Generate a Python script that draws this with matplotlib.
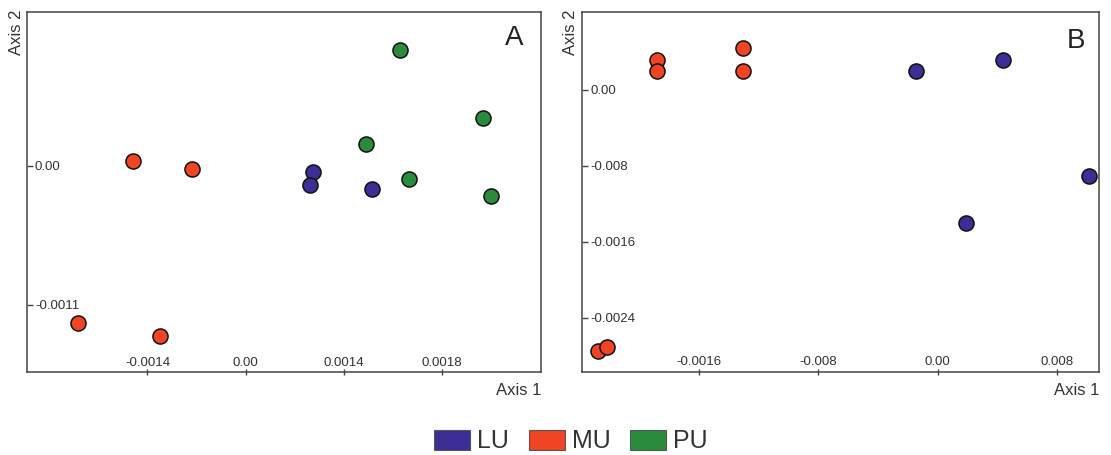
"""Two-panel ordination scatter (Axis 1 vs Axis 2) for groups LU / MU / PU."""

import matplotlib

matplotlib.use("Agg")
import matplotlib.pyplot as plt
from matplotlib.patches import Patch

plt.rcParams["font.family"] = ["Liberation Sans", "DejaVu Sans"]

GROUPS = ["LU", "MU", "PU"]
COLORS = {"LU": "#3b2f95", "MU": "#f04424", "PU": "#2a8b3d"}

# Panel A scores
a_lu_x = [0.000959, 0.000919, 0.001800]
a_lu_y = [-0.000055, -0.000155, -0.000186]
a_mu_x = [-0.001606, -0.000764, -0.002385, -0.001218]
a_mu_y = [0.000032, -0.000024, -0.001240, -0.001345]
a_pu_x = [0.002203, 0.003390, 0.001713, 0.002336, 0.003503]
a_pu_y = [0.000908, 0.000371, 0.000166, -0.000103, -0.000239]

# Panel B scores
b_lu_x = [-0.001429, 0.004368, 0.010138, 0.001899]
b_lu_y = [0.001916, 0.003137, -0.009105, -0.014021]
b_mu_x = [-0.018841, -0.018841, -0.013024, -0.013024, -0.022793, -0.022149]
b_mu_y = [0.003105, 0.001916, 0.004337, 0.001916, -0.027495, -0.027105]

# tick positions and the labels exactly as printed in the source figure
a_xticks = [-0.0014, 0.0, 0.0014, 0.0028]
a_xlabels = ["-0.0014", "0.00", "0.0014", "0.0018"]
a_yticks = [0.0, -0.0011]
a_ylabels = ["0.00", "-0.0011"]
b_xticks = [-0.016, -0.008, 0.0, 0.008]
b_xlabels = ["-0.0016", "-0.008", "0.00", "0.008"]
b_yticks = [0.0, -0.008, -0.016, -0.024]
b_ylabels = ["0.00", "-0.008", "-0.0016", "-0.0024"]

a_xlim = (-0.003125, 0.004217)
a_ylim = (-0.001629, 0.001211)
b_xlim = (-0.023873, 0.010856)
b_ylim = (-0.029705, 0.008189)

SPINE = "#444444"
TEXT = "#333333"


def _style(ax, xticks, xlabels, yticks, ylabels, xlim, ylim, letter, ylab_x, letter_xy):
    ax.set_xlim(*xlim)
    ax.set_ylim(*ylim)
    for sp in ax.spines.values():
        sp.set_color(SPINE)
        sp.set_linewidth(1.1)
    ax.set_xticks(xticks, xlabels)
    ax.set_yticks(yticks, ylabels)
    ax.tick_params(axis="x", direction="inout", length=5, width=1.0,
                   color=SPINE, pad=-5.0, labelsize=9.5, labelcolor=TEXT)
    ax.tick_params(axis="y", direction="in", length=4.5, width=1.0,
                   color=SPINE, pad=-6.0, labelsize=9.5, labelcolor=TEXT)
    for lab in ax.get_xticklabels():
        lab.set_verticalalignment("bottom")
    for lab in ax.get_yticklabels():
        lab.set_horizontalalignment("left")
    ax.text(1.0, -0.052, "Axis 1", transform=ax.transAxes, ha="right",
            va="center", fontsize=12, color=TEXT)
    ax.text(ylab_x, 1.006, "Axis 2", transform=ax.transAxes, ha="center",
            va="top", rotation=90, fontsize=12, color=TEXT)
    ax.text(letter_xy[0], letter_xy[1], letter, transform=ax.transAxes,
            ha="right", va="center", fontsize=20, color="#222222")


def _points(ax, xs, ys, group):
    ax.scatter(xs, ys, s=118, c=COLORS[group], edgecolors="#111111",
               linewidths=1.1, zorder=3, clip_on=False)


fig = plt.figure(figsize=(11.11, 4.55), dpi=100)
ax_a = fig.add_axes([0.0240, 0.1824, 0.4629, 0.7912])
ax_b = fig.add_axes([0.5236, 0.1830, 0.4659, 0.7912])

_points(ax_a, a_lu_x, a_lu_y, "LU")
_points(ax_a, a_mu_x, a_mu_y, "MU")
_points(ax_a, a_pu_x, a_pu_y, "PU")
_style(ax_a, a_xticks, a_xlabels, a_yticks, a_ylabels, a_xlim, a_ylim,
       "A", -0.0194, (0.965, 0.929))

_points(ax_b, b_lu_x, b_lu_y, "LU")
_points(ax_b, b_mu_x, b_mu_y, "MU")
_style(ax_b, b_xticks, b_xlabels, b_yticks, b_ylabels, b_xlim, b_ylim,
       "B", -0.0216, (0.972, 0.9186))

handles = [Patch(facecolor=COLORS[g], edgecolor="#555555", linewidth=0.8, label=g)
           for g in GROUPS]
fig.legend(handles=handles, loc="center", bbox_to_anchor=(0.514, 0.03), ncol=3,
           frameon=False, fontsize=18, handlelength=1.44, handleheight=0.88,
           handletextpad=0.28, columnspacing=0.78, borderpad=0.0,
           labelcolor=TEXT)

fig.savefig("out.png", dpi=100)
plt.close(fig)
